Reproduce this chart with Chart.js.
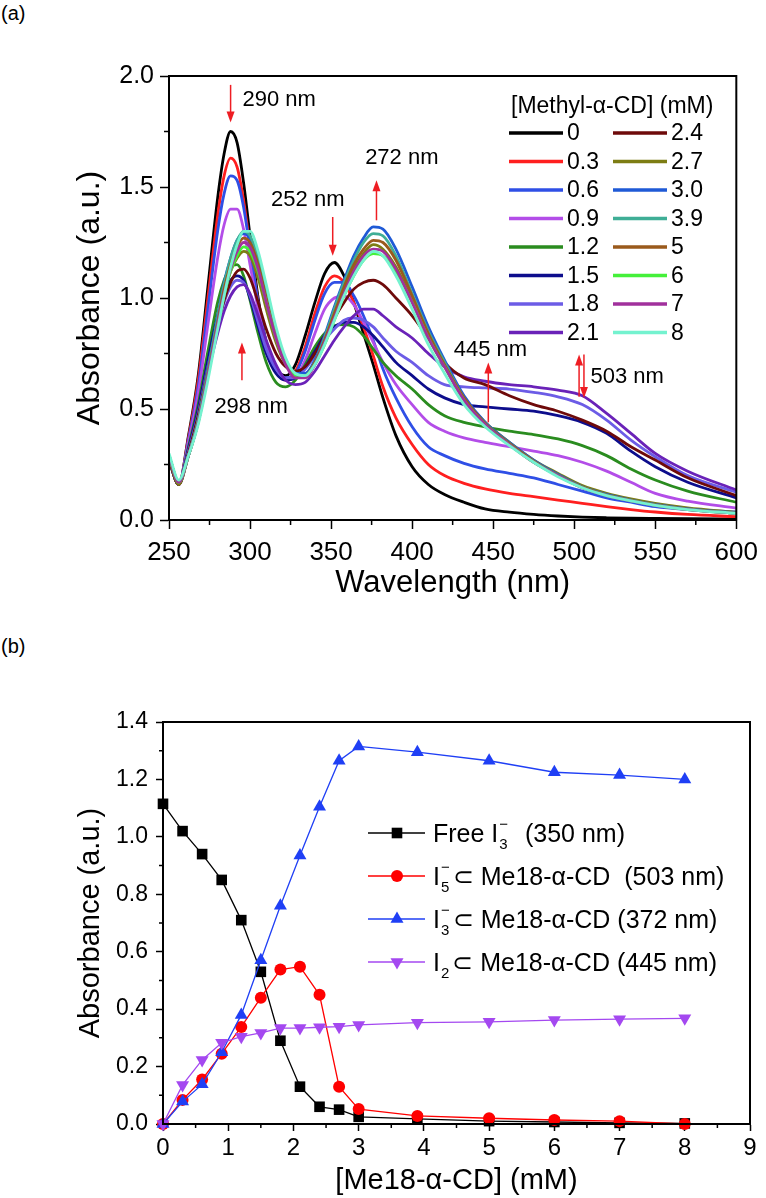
<!DOCTYPE html>
<html>
<head>
<meta charset="utf-8">
<script src="https://cdn.jsdelivr.net/npm/chart.js@4.4.0/dist/chart.umd.min.js"></script>
<style>
html, body { margin: 0; padding: 0; background: #fff; }
body { width: 766px; height: 1198px; position: relative; overflow: hidden; font-family: "Liberation Sans", Arial, sans-serif; }
.panel { position: absolute; left: 0; width: 766px; }
#wrapA { top: 0; height: 600px; }
#wrapB { top: 600px; height: 598px; }
.tag { position: absolute; left: 1px; font-size: 20px; line-height: 20px; color: #000; }
</style>
</head>
<body>
<div class="tag" style="top:3px">(a)</div>
<div class="tag" style="top:636px">(b)</div>
<div class="panel" id="wrapA"><canvas id="specChart"></canvas></div>
<div class="panel" id="wrapB"><canvas id="titrChart"></canvas></div>
<script>
// ---- panel (a): absorption spectra, one array per Methyl-a-CD concentration ----
const wavelengths = [250, 256, 262, 268, 274, 280, 284, 288, 292, 296, 300, 305, 310, 316, 322, 328, 334, 340, 346, 352,
                     358, 364, 370, 376, 382, 390, 400, 410, 420, 432, 445, 460, 475, 490, 505, 520, 535, 550, 570, 600];
const concLabels = ['0', '0.3', '0.6', '0.9', '1.2', '1.5', '1.8', '2.1', '2.4', '2.7', '3.0', '3.9', '5', '6', '7', '8'];

const abs0   = [0.28,0.16,0.38,0.65,1.05,1.45, 1.65,1.75,1.70,1.52,1.28, 1.00,0.80,0.68,0.65,0.70, 0.83,0.98,1.11,1.16,1.10, 0.98,0.84,0.70,0.55,0.38, 0.24,0.16,0.115,0.08,0.05, 0.035,0.025,0.018,0.013,0.01, 0.008,0.007,0.006,0.005];
const abs03  = [0.28,0.16,0.37,0.63,1.00,1.37, 1.55,1.63,1.59,1.44,1.23, 0.98,0.79,0.67,0.63,0.67, 0.78,0.93,1.05,1.10,1.07, 0.98,0.87,0.74,0.60,0.46, 0.34,0.25,0.20,0.165,0.14, 0.12,0.105,0.09,0.075,0.06, 0.047,0.036,0.025,0.015];
const abs06  = [0.28,0.16,0.36,0.60,0.95,1.30, 1.47,1.55,1.53,1.41,1.22, 0.98,0.80,0.68,0.64,0.66, 0.76,0.90,1.02,1.07,1.07, 1.01,0.92,0.81,0.68,0.55, 0.42,0.33,0.29,0.255,0.23, 0.21,0.19,0.16,0.13,0.10, 0.08,0.06,0.047,0.036];
const abs09  = [0.28,0.16,0.35,0.57,0.88,1.18, 1.33,1.40,1.40,1.31,1.15, 0.95,0.79,0.67,0.63,0.64, 0.72,0.84,0.95,1.00,1.01, 0.97,0.89,0.80,0.71,0.61, 0.52,0.44,0.40,0.37,0.35, 0.33,0.31,0.29,0.26,0.22, 0.17,0.12,0.085,0.054];
const abs12  = [0.27,0.16,0.33,0.52,0.76,0.98, 1.08,1.14,1.15,1.10,0.99, 0.84,0.71,0.62,0.60,0.63, 0.70,0.78,0.84,0.875,0.88, 0.87,0.83,0.77,0.71,0.65, 0.59,0.52,0.47,0.44,0.42, 0.40,0.385,0.365,0.335,0.29, 0.23,0.18,0.13,0.08];
const abs15  = [0.27,0.16,0.32,0.50,0.72,0.92, 1.02,1.08,1.10,1.08,1.00, 0.87,0.75,0.66,0.63,0.64, 0.69,0.76,0.83,0.87,0.89, 0.89,0.87,0.83,0.78,0.71, 0.65,0.59,0.55,0.52,0.51, 0.50,0.49,0.47,0.44,0.39, 0.31,0.24,0.17,0.10];
const abs18  = [0.27,0.16,0.31,0.48,0.69,0.88, 0.98,1.05,1.08,1.07,1.01, 0.89,0.77,0.68,0.64,0.64, 0.68,0.74,0.81,0.86,0.90, 0.91,0.90,0.87,0.82,0.76, 0.71,0.65,0.61,0.60,0.595, 0.59,0.575,0.555,0.52,0.45, 0.36,0.285,0.20,0.125];
const abs21  = [0.27,0.16,0.30,0.46,0.66,0.84, 0.94,1.01,1.05,1.06,1.02, 0.92,0.81,0.70,0.63,0.61, 0.62,0.67,0.74,0.81,0.87, 0.92,0.95,0.95,0.92,0.87, 0.82,0.75,0.69,0.645,0.625, 0.61,0.60,0.585,0.56,0.48, 0.39,0.30,0.22,0.135];
const abs24  = [0.27,0.16,0.30,0.47,0.68,0.88, 0.99,1.07,1.12,1.13,1.09, 0.98,0.86,0.75,0.69,0.67, 0.69,0.75,0.83,0.91,0.98, 1.04,1.07,1.08,1.06,1.00, 0.92,0.82,0.71,0.64,0.61, 0.56,0.52,0.49,0.45,0.40, 0.33,0.27,0.19,0.11];
const abs27  = [0.28,0.16,0.29,0.45,0.67,0.89, 1.02,1.12,1.18,1.21,1.19, 1.09,0.95,0.80,0.70,0.65, 0.65,0.71,0.81,0.93,1.04, 1.13,1.20,1.24,1.22,1.14, 0.99,0.83,0.70,0.55,0.44, 0.35,0.27,0.21,0.155,0.12, 0.095,0.075,0.055,0.035];
const abs30  = [0.29,0.17,0.29,0.45,0.68,0.92, 1.07,1.18,1.26,1.29,1.27, 1.17,1.01,0.84,0.72,0.66, 0.66,0.72,0.83,0.96,1.08, 1.19,1.27,1.32,1.31,1.22, 1.05,0.87,0.72,0.56,0.44, 0.35,0.27,0.205,0.15,0.115, 0.09,0.07,0.05,0.032];
const abs39  = [0.29,0.17,0.29,0.45,0.67,0.91, 1.06,1.18,1.26,1.30,1.28, 1.18,1.02,0.84,0.71,0.65, 0.65,0.71,0.82,0.95,1.07, 1.17,1.25,1.29,1.28,1.19, 1.02,0.85,0.71,0.55,0.435, 0.345,0.265,0.20,0.148,0.112, 0.088,0.068,0.048,0.03];
const abs5   = [0.29,0.17,0.29,0.44,0.66,0.89, 1.04,1.15,1.23,1.27,1.25, 1.15,1.00,0.83,0.71,0.65, 0.65,0.71,0.81,0.93,1.05, 1.15,1.22,1.26,1.25,1.17, 1.01,0.84,0.70,0.55,0.435, 0.345,0.265,0.20,0.148,0.112, 0.088,0.068,0.048,0.03];
const abs6   = [0.29,0.17,0.29,0.44,0.65,0.87, 1.01,1.12,1.19,1.23,1.21, 1.12,0.98,0.82,0.71,0.65, 0.65,0.70,0.79,0.90,1.01, 1.10,1.17,1.20,1.19,1.12, 0.98,0.82,0.69,0.54,0.43, 0.34,0.26,0.20,0.145,0.11, 0.086,0.066,0.047,0.03];
const abs7   = [0.29,0.17,0.29,0.44,0.65,0.88, 1.02,1.13,1.21,1.25,1.23, 1.13,0.98,0.82,0.70,0.64, 0.64,0.70,0.80,0.91,1.02, 1.12,1.19,1.22,1.21,1.13, 0.98,0.82,0.69,0.54,0.43, 0.34,0.26,0.20,0.145,0.11, 0.086,0.066,0.047,0.03];
const abs8   = [0.30,0.18,0.29,0.43,0.63,0.86, 1.01,1.14,1.24,1.30,1.30, 1.21,1.06,0.87,0.73,0.66, 0.65,0.70,0.79,0.90,1.01, 1.10,1.17,1.21,1.19,1.10, 0.95,0.79,0.66,0.52,0.42, 0.335,0.26,0.195,0.145,0.11, 0.086,0.066,0.047,0.03];
const spectra = [abs0, abs03, abs06, abs09, abs12, abs15, abs18, abs21, abs24, abs27, abs30, abs39, abs5, abs6, abs7, abs8];
const spectrumColors = ['#000000', '#ff1f1f', '#2f4fe6', '#b34de8', '#2a8c1f', '#0d0d8c', '#6c5ce6', '#6a22b8',
                        '#6e0a0a', '#7d7d14', '#1f5ad6', '#3fae96', '#9a5a1c', '#45f03a', '#a1309c', '#74f2cf'];

// red arrows and their captions, in data units (nm, absorbance)
const arrowNotes = [
  {text: '290 nm', at: 288, from: 1.96, to: 1.79, tx: 295.3, ty: 1.89},
  {text: '252 nm', at: 351, from: 1.365, to: 1.19, tx: 313, ty: 1.44},
  {text: '272 nm', at: 378, from: 1.35, to: 1.53, tx: 371, ty: 1.63},
  {text: '298 nm', at: 295, from: 0.63, to: 0.80, tx: 278, ty: 0.51},
  {text: '445 nm', at: 447, from: 0.44, to: 0.71, tx: 425.7, ty: 0.765},
  {text: '503 nm', at: 503, from: 0.555, to: 0.745, tx: 510, ty: 0.645},
  {text: '', at: 506, from: 0.745, to: 0.55}
];

// ---- panel (b): titration, one array per species ----
const meConc = [0, 0.3, 0.6, 0.9, 1.2, 1.5, 1.8, 2.1, 2.4, 2.7, 3.0, 3.9, 5, 6, 7, 8];
const freeI3    = [1.115, 1.02, 0.94, 0.85, 0.71, 0.53, 0.29, 0.13, 0.06, 0.05, 0.025, 0.018, 0.01, 0.007, 0.004, 0.002];
const i5Complex = [0, 0.084, 0.155, 0.245, 0.338, 0.44, 0.538, 0.548, 0.45, 0.13, 0.052, 0.028, 0.02, 0.014, 0.01, 0.0];
const i3Complex = [0, 0.078, 0.138, 0.25, 0.38, 0.57, 0.76, 0.935, 1.105, 1.265, 1.315, 1.295, 1.265, 1.225, 1.215, 1.2];
const i2Complex = [0, 0.136, 0.223, 0.283, 0.304, 0.317, 0.334, 0.334, 0.337, 0.339, 0.345, 0.353, 0.356, 0.362, 0.365, 0.368];
const titrLabels = ['Free I\u2083\u207b (350 nm)', 'I\u2085\u207b \u2282 Me18-\u03b1-CD (503 nm)',
                    'I\u2083\u207b \u2282 Me18-\u03b1-CD (372 nm)', 'I\u2082 \u2282 Me18-\u03b1-CD (445 nm)'];
const legendParts = [
  {pre: 'Free I', sub: '3', sup: '\u2212', post: '  (350 nm)'},
  {pre: 'I', sub: '5', sup: '\u2212', post: '\u2282 Me18-\u03b1-CD  (503 nm)'},
  {pre: 'I', sub: '3', sup: '\u2212', post: '\u2282 Me18-\u03b1-CD (372 nm)'},
  {pre: 'I', sub: '2', sup: '', post: '\u2282 Me18-\u03b1-CD (445 nm)'}
];

const FONT = '"Liberation Sans", Arial, sans-serif';
Chart.defaults.font.family = FONT;
Chart.defaults.color = '#000';

// frame round the plot plus the small unlabelled ticks between the labelled ones
const boxAndMinorTicks = {
  id: 'boxAndMinorTicks',
  afterDatasetsDraw(chart, args, opts) {
    const {ctx, chartArea: a} = chart;
    const xs = chart.scales.x, ys = chart.scales.y;
    ctx.save();
    ctx.strokeStyle = '#000';
    ctx.lineWidth = 2;
    ctx.strokeRect(a.left, a.top, a.right - a.left, a.bottom - a.top);
    ctx.lineWidth = 1.5;
    ctx.beginPath();
    const nx = Math.round((xs.max - xs.min) / opts.xStep);
    for (let k = 1; k < nx; k += 2) {
      const px = xs.getPixelForValue(xs.min + k * opts.xStep);
      ctx.moveTo(px, a.bottom);
      ctx.lineTo(px, a.bottom + opts.len);
    }
    const ny = Math.round((ys.max - ys.min) / opts.yStep);
    for (let k = 1; k < ny; k += 2) {
      const py = ys.getPixelForValue(ys.min + k * opts.yStep);
      ctx.moveTo(a.left, py);
      ctx.lineTo(a.left - opts.len, py);
    }
    ctx.stroke();
    ctx.restore();
  }
};

const spectrumNotes = {
  id: 'spectrumNotes',
  afterDatasetsDraw(chart) {
    const {ctx, scales: {x, y}} = chart;
    ctx.save();
    ctx.strokeStyle = '#ee1d23';
    ctx.fillStyle = '#ee1d23';
    ctx.lineWidth = 1.5;
    arrowNotes.forEach(n => {
      const px = x.getPixelForValue(n.at);
      const y0 = y.getPixelForValue(n.from), y1 = y.getPixelForValue(n.to);
      const dir = Math.sign(y1 - y0);
      ctx.beginPath();
      ctx.moveTo(px, y0);
      ctx.lineTo(px, y1 - dir * 8);
      ctx.stroke();
      ctx.beginPath();
      ctx.moveTo(px, y1);
      ctx.lineTo(px - 4, y1 - dir * 11);
      ctx.lineTo(px + 4, y1 - dir * 11);
      ctx.closePath();
      ctx.fill();
    });
    ctx.fillStyle = '#000';
    ctx.font = '22px ' + FONT;
    ctx.textBaseline = 'middle';
    ctx.textAlign = 'left';
    arrowNotes.forEach(n => {
      if (n.text) ctx.fillText(n.text, x.getPixelForValue(n.tx), y.getPixelForValue(n.ty));
    });

    // two-column legend
    ctx.font = '23px ' + FONT;
    ctx.fillText('[Methyl-\u03b1-CD] (mM)', 511, 107);
    chart.data.datasets.forEach((ds, i) => {
      const col = Math.floor(i / 8), row = i % 8;
      const ly = 133 + row * 28.5;
      const lx = col ? 613 : 509;
      ctx.strokeStyle = ds.borderColor;
      ctx.lineWidth = 3.5;
      ctx.beginPath();
      ctx.moveTo(lx, ly);
      ctx.lineTo(lx + 54, ly);
      ctx.stroke();
      ctx.fillText(ds.label, lx + 58, ly + 1);
    });
    ctx.restore();
  }
};

function drawMarker(ctx, style, r, rot, x, y) {
  ctx.beginPath();
  if (style === 'rect') {
    const s = r * Math.SQRT1_2;
    ctx.rect(x - s, y - s, 2 * s, 2 * s);
  } else if (style === 'circle') {
    ctx.arc(x, y, r, 0, 2 * Math.PI);
  } else {
    const sg = rot ? -1 : 1;
    ctx.moveTo(x, y - sg * r);
    ctx.lineTo(x + r * 0.866, y + sg * r / 2);
    ctx.lineTo(x - r * 0.866, y + sg * r / 2);
    ctx.closePath();
  }
  ctx.fill();
}

const titrLegend = {
  id: 'titrLegend',
  afterDraw(chart) {
    const ctx = chart.ctx;
    ctx.save();
    chart.data.datasets.forEach((ds, i) => {
      const ly = 233 + i * 43;
      ctx.strokeStyle = ds.borderColor;
      ctx.fillStyle = ds.backgroundColor;
      ctx.lineWidth = 1.3;
      ctx.beginPath();
      ctx.moveTo(368, ly);
      ctx.lineTo(425, ly);
      ctx.stroke();
      drawMarker(ctx, ds.pointStyle, ds.pointRadius, ds.pointRotation, 397, ly);

      const p = legendParts[i];
      const base = ly + 9;
      let tx = 433;
      ctx.fillStyle = '#000';
      ctx.textBaseline = 'alphabetic';
      ctx.font = '25px ' + FONT;
      ctx.fillText(p.pre, tx, base);
      tx += ctx.measureText(p.pre).width + 1;
      ctx.font = '15px ' + FONT;
      ctx.fillText(p.sub, tx, base + 7);
      if (p.sup) ctx.fillText(p.sup, tx, base - 13);
      tx += Math.max(ctx.measureText(p.sub).width, ctx.measureText(p.sup).width) + 3;
      ctx.font = '25px ' + FONT;
      ctx.fillText(p.post, tx, base);
    });
    ctx.restore();
  }
};

// ---- chart (a) ----
new Chart(document.getElementById('specChart'), {
  type: 'line',
  data: {
    datasets: spectra.map((vals, i) => ({
      label: concLabels[i],
      data: wavelengths.map((w, k) => ({x: w, y: vals[k]})),
      borderColor: spectrumColors[i],
      borderWidth: 2.8,
      pointRadius: 0,
      fill: false,
      cubicInterpolationMode: 'monotone',
      order: spectra.length - 1 - i
    }))
  },
  options: {
    responsive: true,
    maintainAspectRatio: false,
    animation: false,
    layout: {padding: {top: 76, right: 25, bottom: 0, left: 0}},
    plugins: {
      legend: {display: false},
      tooltip: {enabled: false},
      boxAndMinorTicks: {xStep: 25, yStep: 0.25, len: 5}
    },
    scales: {
      x: {
        type: 'linear',
        min: 250,
        max: 600,
        afterFit: s => { s.height = 80; },
        ticks: {stepSize: 50, font: {size: 26}, padding: 8, maxRotation: 0},
        grid: {drawOnChartArea: false, tickLength: 9, color: '#000', tickWidth: 1.5},
        border: {color: '#000', width: 2},
        title: {display: true, text: 'Wavelength (nm)', font: {size: 31, lineHeight: 1}, padding: {top: 0, bottom: 1.5}}
      },
      y: {
        min: 0,
        max: 2,
        afterFit: s => { s.width = 169; },
        ticks: {stepSize: 0.5, font: {size: 25}, padding: 6, callback: v => v.toFixed(1)},
        grid: {drawOnChartArea: false, tickLength: 9, color: '#000', tickWidth: 1.5},
        border: {color: '#000', width: 2},
        title: {display: true, text: 'Absorbance (a.u.)', font: {size: 32, lineHeight: 1}, padding: {top: 74, bottom: 0}}
      }
    }
  },
  plugins: [boxAndMinorTicks, spectrumNotes]
});

// ---- chart (b) ----
const titrSeries = [freeI3, i5Complex, i3Complex, i2Complex];
const titrColors = ['#000000', '#ff0000', '#1f3ff5', '#a448f0'];
const titrStyles = ['rect', 'circle', 'triangle', 'triangle'];
const titrRadius = [7.5, 6, 7.5, 7.5];
const titrRotation = [0, 0, 0, 180];

new Chart(document.getElementById('titrChart'), {
  type: 'line',
  data: {
    datasets: titrSeries.map((vals, i) => ({
      label: titrLabels[i],
      data: meConc.map((c, k) => ({x: c, y: vals[k]})),
      borderColor: titrColors[i],
      backgroundColor: titrColors[i],
      borderWidth: 1.3,
      pointStyle: titrStyles[i],
      pointRadius: titrRadius[i],
      pointRotation: titrRotation[i],
      pointBorderWidth: 0,
      tension: 0,
      fill: false,
      clip: false,
      order: titrSeries.length - 1 - i
    }))
  },
  options: {
    responsive: true,
    maintainAspectRatio: false,
    animation: false,
    layout: {padding: {top: 122, right: 16, bottom: 0, left: 0}},
    plugins: {
      legend: {display: false},
      tooltip: {enabled: false},
      boxAndMinorTicks: {xStep: 0.5, yStep: 0.1, len: 4}
    },
    scales: {
      x: {
        type: 'linear',
        min: 0,
        max: 9,
        afterFit: s => { s.height = 74; },
        ticks: {stepSize: 1, font: {size: 24}, padding: 3, maxRotation: 0},
        grid: {drawOnChartArea: false, tickLength: 7, color: '#000', tickWidth: 1.5},
        border: {color: '#000', width: 2},
        title: {display: true, text: '[Me18-\u03b1-CD] (mM)', font: {size: 29, lineHeight: 1}, padding: {top: 0, bottom: 2.5}}
      },
      y: {
        min: 0,
        max: 1.4,
        afterFit: s => { s.width = 163; },
        ticks: {stepSize: 0.2, font: {size: 23}, padding: 8, callback: v => v.toFixed(1)},
        grid: {drawOnChartArea: false, tickLength: 7, color: '#000', tickWidth: 1.5},
        border: {color: '#000', width: 2},
        title: {display: true, text: 'Absorbance (a.u.)', font: {size: 29, lineHeight: 1}, padding: {top: 76.5, bottom: 0}}
      }
    }
  },
  plugins: [boxAndMinorTicks, titrLegend]
});
</script>
</body>
</html>
